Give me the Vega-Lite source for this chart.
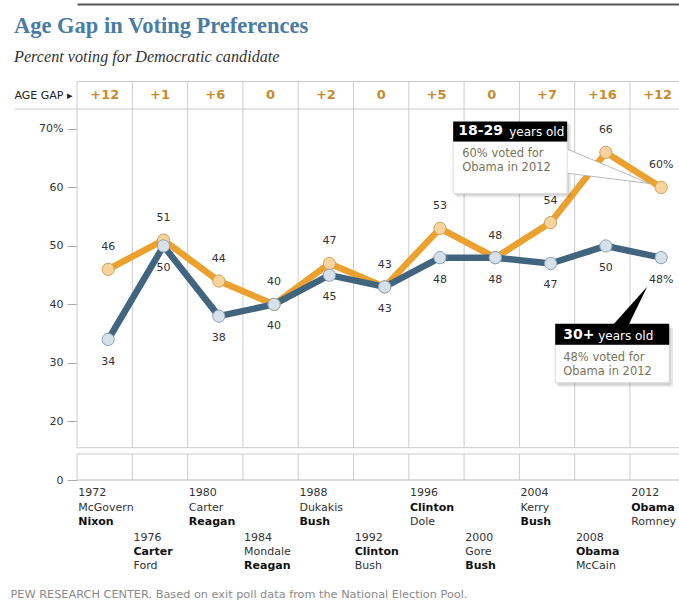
{
  "$schema": "https://vega.github.io/schema/vega-lite/v6.json",
  "padding": {"left": 10, "top": 4, "right": 0, "bottom": 0},
  "bounds": "flush",
  "config": {
    "view": {"stroke": null},
    "font": "DejaVu Sans",
    "text": {"font": "DejaVu Sans"},
    "axis": {"labelFont": "DejaVu Sans", "titleFont": "DejaVu Sans"}
  },
  "title": {
    "text": "Age Gap in Voting Preferences",
    "subtitle": "Percent voting for Democratic candidate",
    "anchor": "start",
    "font": "Liberation Serif",
    "fontSize": 22.5,
    "fontWeight": "bold",
    "color": "#4b7ba5",
    "subtitleFont": "Liberation Serif",
    "subtitleFontSize": 16.2,
    "subtitleFontStyle": "italic",
    "subtitleColor": "#333333",
    "subtitlePadding": 11,
    "offset": -61,
    "dx": 4
  },
  "datasets": {
    "votes": [
      {"year": 1972, "group": "18-29", "pct": 46}, {"year": 1972, "group": "30+", "pct": 34},
      {"year": 1976, "group": "18-29", "pct": 51}, {"year": 1976, "group": "30+", "pct": 50},
      {"year": 1980, "group": "18-29", "pct": 44}, {"year": 1980, "group": "30+", "pct": 38},
      {"year": 1984, "group": "18-29", "pct": 40}, {"year": 1984, "group": "30+", "pct": 40},
      {"year": 1988, "group": "18-29", "pct": 47}, {"year": 1988, "group": "30+", "pct": 45},
      {"year": 1992, "group": "18-29", "pct": 43}, {"year": 1992, "group": "30+", "pct": 43},
      {"year": 1996, "group": "18-29", "pct": 53}, {"year": 1996, "group": "30+", "pct": 48},
      {"year": 2000, "group": "18-29", "pct": 48}, {"year": 2000, "group": "30+", "pct": 48},
      {"year": 2004, "group": "18-29", "pct": 54}, {"year": 2004, "group": "30+", "pct": 47},
      {"year": 2008, "group": "18-29", "pct": 66}, {"year": 2008, "group": "30+", "pct": 50},
      {"year": 2012, "group": "18-29", "pct": 60}, {"year": 2012, "group": "30+", "pct": 48}
    ],
    "elections": [
      {"year": 1972, "gap": 12, "dem": "McGovern", "rep": "Nixon", "winner": "R"},
      {"year": 1976, "gap": 1, "dem": "Carter", "rep": "Ford", "winner": "D"},
      {"year": 1980, "gap": 6, "dem": "Carter", "rep": "Reagan", "winner": "R"},
      {"year": 1984, "gap": 0, "dem": "Mondale", "rep": "Reagan", "winner": "R"},
      {"year": 1988, "gap": 2, "dem": "Dukakis", "rep": "Bush", "winner": "R"},
      {"year": 1992, "gap": 0, "dem": "Clinton", "rep": "Bush", "winner": "D"},
      {"year": 1996, "gap": 5, "dem": "Clinton", "rep": "Dole", "winner": "D"},
      {"year": 2000, "gap": 0, "dem": "Gore", "rep": "Bush", "winner": "R"},
      {"year": 2004, "gap": 7, "dem": "Kerry", "rep": "Bush", "winner": "R"},
      {"year": 2008, "gap": 16, "dem": "Obama", "rep": "McCain", "winner": "D"},
      {"year": 2012, "gap": 12, "dem": "Obama", "rep": "Romney", "winner": "D"}
    ]
  },
  "spacing": 0,
  "resolve": {"scale": {"x": "independent", "y": "independent"}},
  "vconcat": [
    {
      "width": 602,
      "height": 28,
      "data": {"name": "elections"},
      "transform": [{"calculate": "datum.gap > 0 ? '+' + datum.gap : '' + datum.gap", "as": "gapLabel"}],
      "layer": [
        {
          "mark": {"type": "rule", "xOffset": -31.2, "color": "#cccccc", "strokeWidth": 1},
          "encoding": {
            "x": {"field": "year", "type": "quantitative",
              "scale": {"domain": [1969.74, 2013.29], "nice": false, "zero": false},
              "axis": {"orient": "top", "domain": true, "domainColor": "#cccccc", "ticks": false, "labels": false, "grid": false, "title": null}}
          }
        },
        {
          "transform": [{"filter": "datum.year == 1972"}],
          "mark": {"type": "rule", "color": "#cccccc", "strokeWidth": 1},
          "encoding": {
            "x": {"datum": 1965.25, "type": "quantitative", "axis": null},
            "x2": {"datum": 2013.29},
            "y": {"datum": 0, "type": "quantitative",
              "scale": {"domain": [0, 1], "nice": false, "zero": false},
              "axis": {"values": [0], "labels": false, "domain": false, "ticks": false, "grid": false,
                "title": "AGE GAP ▸", "titleAngle": 0, "titleAlign": "right", "titleBaseline": "middle",
                "titleX": -5, "titleY": 14, "titleFontSize": 11, "titleFontWeight": "normal", "titleColor": "#222222"}}
          }
        },
        {
          "mark": {"type": "text", "dx": -3.5, "fontWeight": "bold", "fontSize": 13, "color": "#c78a2c"},
          "encoding": {
            "x": {"field": "year", "type": "quantitative",
              "axis": {"orient": "top", "offset": 77, "domain": true, "domainColor": "#555555", "domainWidth": 2, "ticks": false, "labels": false, "grid": false, "title": null}},
            "y": {"datum": 0.5, "type": "quantitative"},
            "text": {"field": "gapLabel"}
          }
        }
      ],
      "resolve": {"axis": {"x": "independent"}}
    },
    {
      "width": 602,
      "height": 371,
      "layer": [
        {
          "data": {"name": "elections"},
          "mark": {"type": "rule", "xOffset": -31.2, "color": "#cccccc", "strokeWidth": 1},
          "encoding": {
            "x": {"field": "year", "type": "quantitative",
              "scale": {"domain": [1969.74, 2013.29], "nice": false, "zero": false}, "axis": null},
            "y": {"datum": 15.5, "type": "quantitative",
              "scale": {"domain": [0, 15.5, 73.42], "range": [371, 338.7, 0], "nice": false, "zero": false},
              "axis": {"values": [0, 20, 30, 40, 50, 60, 70],
                "labelExpr": "datum.value == 70 ? '70%' : datum.label",
                "tickSize": 10, "tickColor": "#aaaaaa", "domain": false, "grid": false, "title": null,
                "labelFontSize": 11, "labelColor": "#333333", "labelPadding": 4, "labelFlush": false, "labelOverlap": false}},
            "y2": {"datum": 73.42}
          }
        },
        {
          "data": {"name": "elections"},
          "mark": {"type": "rule", "xOffset": -31.2, "color": "#cccccc", "strokeWidth": 1},
          "encoding": {
            "x": {"field": "year", "type": "quantitative"},
            "y": {"datum": 0, "type": "quantitative"},
            "y2": {"datum": 12.5}
          }
        },
        {
          "data": {"name": "elections"},
          "transform": [{"filter": "datum.year == 1972"}],
          "mark": {"type": "rule", "color": "#cccccc", "strokeWidth": 1},
          "encoding": {"x": {"datum": 1969.74, "type": "quantitative"}, "x2": {"datum": 2013.29}, "y": {"datum": 15.5, "type": "quantitative"}}
        },
        {
          "data": {"name": "elections"},
          "transform": [{"filter": "datum.year == 1972"}],
          "mark": {"type": "rule", "color": "#cccccc", "strokeWidth": 1},
          "encoding": {"x": {"datum": 1969.74, "type": "quantitative"}, "x2": {"datum": 2013.29}, "y": {"datum": 12.5, "type": "quantitative"}}
        },
        {
          "data": {"name": "elections"},
          "transform": [{"filter": "datum.year == 1972"}],
          "mark": {"type": "rule", "color": "#bbbbbb", "strokeWidth": 1},
          "encoding": {"x": {"datum": 1969.74, "type": "quantitative"}, "x2": {"datum": 2013.29}, "y": {"datum": 0, "type": "quantitative"}}
        },
        {
          "data": {"name": "votes"},
          "mark": {"type": "line", "strokeWidth": 6.5, "strokeJoin": "round"},
          "encoding": {
            "x": {"field": "year", "type": "quantitative"},
            "y": {"field": "pct", "type": "quantitative"},
            "color": {"field": "group", "type": "nominal",
              "scale": {"domain": ["30+", "18-29"], "range": ["#41647f", "#eca02d"]}, "legend": null}
          }
        },
        {
          "data": {"name": "votes"},
          "mark": {"type": "point", "filled": true, "size": 150, "strokeWidth": 1, "opacity": 1},
          "encoding": {
            "x": {"field": "year", "type": "quantitative"},
            "y": {"field": "pct", "type": "quantitative"},
            "fill": {"field": "group", "type": "nominal",
              "scale": {"domain": ["30+", "18-29"], "range": ["#d6e1ea", "#f8d49c"]}, "legend": null},
            "stroke": {"field": "group", "type": "nominal",
              "scale": {"domain": ["30+", "18-29"], "range": ["#8fa2b3", "#cfa25e"]}, "legend": null}
          }
        },
        {
          "data": {"name": "votes"},
          "transform": [
            {"filter": "datum.group == '18-29'"},
            {"calculate": "datum.year == 2012 ? datum.pct + '%' : '' + datum.pct", "as": "label"}
          ],
          "mark": {"type": "text", "dy": -22, "fontSize": 11, "color": "#333333"},
          "encoding": {
            "x": {"field": "year", "type": "quantitative"},
            "y": {"field": "pct", "type": "quantitative"},
            "text": {"field": "label"}
          }
        },
        {
          "data": {"name": "votes"},
          "transform": [
            {"filter": "datum.group == '30+'"},
            {"calculate": "datum.year == 2012 ? datum.pct + '%' : '' + datum.pct", "as": "label"}
          ],
          "mark": {"type": "text", "dy": 22, "fontSize": 11, "color": "#333333"},
          "encoding": {
            "x": {"field": "year", "type": "quantitative"},
            "y": {"field": "pct", "type": "quantitative"},
            "text": {"field": "label"}
          }
        },
        {
          "data": {"name": "votes"},
          "transform": [{"filter": "datum.year == 2012"}],
          "layer": [
            {
              "transform": [{"filter": "datum.group == '18-29'"}],
              "layer": [
                {"mark": {"type": "rect", "xOffset": -205, "x2Offset": -90, "yOffset": -63, "y2Offset": 10, "fill": "#000000", "opacity": 0.08},
                 "encoding": {"x": {"field": "year", "type": "quantitative"}, "x2": {"field": "year"}, "y": {"field": "pct", "type": "quantitative"}, "y2": {"field": "pct"}}},
                {"mark": {"type": "rect", "xOffset": -206.5, "x2Offset": -92, "yOffset": -64.5, "y2Offset": 8, "fill": "#000000", "opacity": 0.1},
                 "encoding": {"x": {"field": "year", "type": "quantitative"}, "x2": {"field": "year"}, "y": {"field": "pct", "type": "quantitative"}, "y2": {"field": "pct"}}},
                {"mark": {"type": "point", "shape": "M -1.0 -0.41 L -0.12 -0.04 L -1.0 -0.15 Z", "size": 40000, "filled": true, "fill": "#ffffff", "stroke": "#aaaaaa", "strokeWidth": 0.8, "opacity": 1},
                 "encoding": {"x": {"field": "year", "type": "quantitative"}, "y": {"field": "pct", "type": "quantitative"}}},
                {"mark": {"type": "rect", "xOffset": -208, "x2Offset": -94, "yOffset": -46, "y2Offset": 6, "fill": "#ffffff", "stroke": "#dddddd", "strokeWidth": 1},
                 "encoding": {"x": {"field": "year", "type": "quantitative"}, "x2": {"field": "year"}, "y": {"field": "pct", "type": "quantitative"}, "y2": {"field": "pct"}}},
                {"mark": {"type": "rect", "xOffset": -208, "x2Offset": -94, "yOffset": -66, "y2Offset": -46, "fill": "#000000"},
                 "encoding": {"x": {"field": "year", "type": "quantitative"}, "x2": {"field": "year"}, "y": {"field": "pct", "type": "quantitative"}, "y2": {"field": "pct"}}},
                {"mark": {"type": "text", "text": "18-29", "align": "left", "dx": -203, "dy": -56, "fontSize": 14, "fontWeight": "bold", "color": "#ffffff"},
                 "encoding": {"x": {"field": "year", "type": "quantitative"}, "y": {"field": "pct", "type": "quantitative"}}},
                {"mark": {"type": "text", "text": "years old", "align": "left", "dx": -152, "dy": -55, "fontSize": 12, "color": "#ffffff"},
                 "encoding": {"x": {"field": "year", "type": "quantitative"}, "y": {"field": "pct", "type": "quantitative"}}},
                {"mark": {"type": "text", "text": "60% voted for", "align": "left", "dx": -199, "dy": -33, "fontSize": 11.5, "color": "#7b7358"},
                 "encoding": {"x": {"field": "year", "type": "quantitative"}, "y": {"field": "pct", "type": "quantitative"}}},
                {"mark": {"type": "text", "text": "Obama in 2012", "align": "left", "dx": -199, "dy": -19, "fontSize": 11.5, "color": "#7b7358"},
                 "encoding": {"x": {"field": "year", "type": "quantitative"}, "y": {"field": "pct", "type": "quantitative"}}}
              ]
            },
            {
              "transform": [{"filter": "datum.group == '30+'"}],
              "layer": [
                {"mark": {"type": "rect", "xOffset": -103, "x2Offset": 12, "yOffset": 70, "y2Offset": 129, "fill": "#000000", "opacity": 0.08},
                 "encoding": {"x": {"field": "year", "type": "quantitative"}, "x2": {"field": "year"}, "y": {"field": "pct", "type": "quantitative"}, "y2": {"field": "pct"}}},
                {"mark": {"type": "rect", "xOffset": -104.5, "x2Offset": 10, "yOffset": 68, "y2Offset": 127.5, "fill": "#000000", "opacity": 0.1},
                 "encoding": {"x": {"field": "year", "type": "quantitative"}, "x2": {"field": "year"}, "y": {"field": "pct", "type": "quantitative"}, "y2": {"field": "pct"}}},
                {"mark": {"type": "point", "shape": "M -0.49 0.68 L -0.33 0.68 L -0.14 0.29 Z", "size": 40000, "filled": true, "fill": "#000000", "opacity": 1},
                 "encoding": {"x": {"field": "year", "type": "quantitative"}, "y": {"field": "pct", "type": "quantitative"}}},
                {"mark": {"type": "rect", "xOffset": -106, "x2Offset": 8, "yOffset": 87, "y2Offset": 125, "fill": "#ffffff", "stroke": "#dddddd", "strokeWidth": 1},
                 "encoding": {"x": {"field": "year", "type": "quantitative"}, "x2": {"field": "year"}, "y": {"field": "pct", "type": "quantitative"}, "y2": {"field": "pct"}}},
                {"mark": {"type": "rect", "xOffset": -106, "x2Offset": 8, "yOffset": 66, "y2Offset": 87, "fill": "#000000"},
                 "encoding": {"x": {"field": "year", "type": "quantitative"}, "x2": {"field": "year"}, "y": {"field": "pct", "type": "quantitative"}, "y2": {"field": "pct"}}},
                {"mark": {"type": "text", "text": "30+", "align": "left", "dx": -98, "dy": 77, "fontSize": 14, "fontWeight": "bold", "color": "#ffffff"},
                 "encoding": {"x": {"field": "year", "type": "quantitative"}, "y": {"field": "pct", "type": "quantitative"}}},
                {"mark": {"type": "text", "text": "years old", "align": "left", "dx": -63, "dy": 78, "fontSize": 12, "color": "#ffffff"},
                 "encoding": {"x": {"field": "year", "type": "quantitative"}, "y": {"field": "pct", "type": "quantitative"}}},
                {"mark": {"type": "text", "text": "48% voted for", "align": "left", "dx": -98, "dy": 100, "fontSize": 11.5, "color": "#7b7358"},
                 "encoding": {"x": {"field": "year", "type": "quantitative"}, "y": {"field": "pct", "type": "quantitative"}}},
                {"mark": {"type": "text", "text": "Obama in 2012", "align": "left", "dx": -98, "dy": 114, "fontSize": 11.5, "color": "#7b7358"},
                 "encoding": {"x": {"field": "year", "type": "quantitative"}, "y": {"field": "pct", "type": "quantitative"}}}
              ]
            }
          ]
        }
      ]
    },
    {
      "width": 602,
      "height": 90,
      "data": {"name": "elections"},
      "encoding": {
        "x": {"field": "year", "type": "quantitative",
          "scale": {"domain": [1969.74, 2013.29], "nice": false, "zero": false},
          "axis": {"domain": false, "ticks": false, "labels": false, "grid": false,
            "title": "PEW RESEARCH  CENTER.  Based on exit poll data from the National Election Pool.",
            "titleAnchor": "start", "titleAlign": "left", "titleX": -67, "titleFontSize": 11.3,
            "titleFontWeight": "normal", "titleColor": "#8a8a8a", "titlePadding": 18}}
      },
      "layer": [
        {
          "transform": [{"filter": {"field": "year", "oneOf": [1972, 1980, 1988, 1996, 2004, 2012]}}],
          "layer": [
            {"mark": {"type": "text", "align": "left", "dx": -30, "dy": -32, "fontSize": 11, "color": "#333333"},
             "encoding": {"text": {"field": "year"}}},
            {"mark": {"type": "text", "align": "left", "dx": -30, "dy": -17.5, "fontSize": 11,
               "fontWeight": {"expr": "datum.winner == 'D' ? 'bold' : 'normal'"},
               "color": {"expr": "datum.winner == 'D' ? '#111111' : '#333333'"}},
             "encoding": {"text": {"field": "dem"}}},
            {"mark": {"type": "text", "align": "left", "dx": -30, "dy": -3, "fontSize": 11,
               "fontWeight": {"expr": "datum.winner == 'R' ? 'bold' : 'normal'"},
               "color": {"expr": "datum.winner == 'R' ? '#111111' : '#333333'"}},
             "encoding": {"text": {"field": "rep"}}}
          ]
        },
        {
          "transform": [{"filter": {"field": "year", "oneOf": [1976, 1984, 1992, 2000, 2008]}}],
          "layer": [
            {"mark": {"type": "text", "align": "left", "dx": -30, "dy": 12.5, "fontSize": 11, "color": "#333333"},
             "encoding": {"text": {"field": "year"}}},
            {"mark": {"type": "text", "align": "left", "dx": -30, "dy": 27, "fontSize": 11,
               "fontWeight": {"expr": "datum.winner == 'D' ? 'bold' : 'normal'"},
               "color": {"expr": "datum.winner == 'D' ? '#111111' : '#333333'"}},
             "encoding": {"text": {"field": "dem"}}},
            {"mark": {"type": "text", "align": "left", "dx": -30, "dy": 41, "fontSize": 11,
               "fontWeight": {"expr": "datum.winner == 'R' ? 'bold' : 'normal'"},
               "color": {"expr": "datum.winner == 'R' ? '#111111' : '#333333'"}},
             "encoding": {"text": {"field": "rep"}}}
          ]
        }
      ]
    }
  ]
}
